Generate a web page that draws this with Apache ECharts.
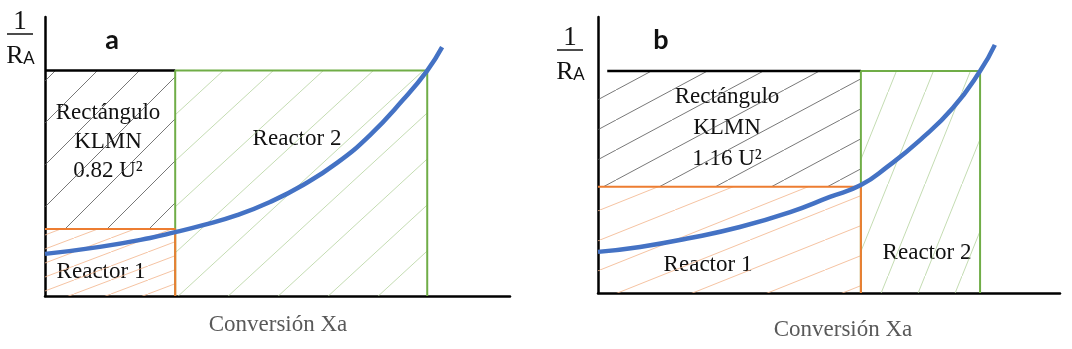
<!DOCTYPE html>
<html>
<head>
<meta charset="utf-8">
<script src="https://cdn.jsdelivr.net/npm/echarts@6/dist/echarts.min.js"></script>
<style>
  html, body { margin: 0; padding: 0; background: #fff; }
  #main { width: 1072px; height: 349px; }
</style>
</head>
<body>
<div id="main"></div>
<script>
// curva 1/RA vs conversion, panel a
var curveXA = [0, 0.118, 0.226, 0.280, 0.340, 0.413, 0.484, 0.555, 0.628, 0.699, 0.770, 0.822, 0.854];
var curveYA = [1.51, 1.76, 2.08, 2.29, 2.54, 2.90, 3.37, 3.98, 4.77, 5.77, 7.03, 8.08, 8.92];
// panel b
var curveXB = [0, 0.091, 0.199, 0.307, 0.416, 0.502, 0.569, 0.626, 0.697, 0.768, 0.827, 0.859];
var curveYB = [1.49, 1.67, 1.99, 2.39, 2.93, 3.48, 3.91, 4.57, 5.54, 6.70, 8.04, 8.99];

// conversion de salida de cada reactor [inicio, reactor 1, reactor 2]
var convA = [0, 0.28, 0.822];
var convB = [0, 0.569, 0.827];
// niveles 1/RA [reactor 1, reactor 2]
var levelA = [2.40, 8.08];
var levelB = [3.85, 8.04];

var labelsA = ['Rectángulo', 'KLMN', '0.82 U²'];
var labelsB = ['Rectángulo', 'KLMN', '1.16 U²'];

// rayado
function hatch(w, h, color, lw) {
  var c = document.createElement('canvas');
  c.width = w; c.height = h;
  var ctx = c.getContext('2d');
  ctx.strokeStyle = color;
  ctx.lineWidth = lw;
  ctx.beginPath();
  ctx.moveTo(-w, 2 * h);
  ctx.lineTo(2 * w, -h);
  ctx.stroke();
  return { image: c, repeat: 'repeat' };
}
var pats = [
  hatch(42, 42, '#555', 0.8),     // a negro
  hatch(37, 14, '#f3b48a', 0.8),  // a naranja
  hatch(50, 46, '#b5d39e', 0.8),  // a verde
  hatch(56, 30, '#555', 0.8),     // b negro
  hatch(75, 30, '#f3b48a', 0.8),  // b naranja
  hatch(37, 92, '#b5d39e', 0.8)   // b verde
];

function zip(xs, ys) {
  return xs.map(function (x, i) { return [x, ys[i]]; });
}

function renderHatch(params, api) {
  var p0 = api.coord([api.value(0), api.value(3)]);
  var p1 = api.coord([api.value(2), api.value(1)]);
  return {
    type: 'rect',
    shape: { x: p0[0], y: p0[1], width: p1[0] - p0[0], height: p1[1] - p0[1] },
    style: { fill: pats[api.value(4)], stroke: null }
  };
}

function panelSeries(idx, conv, level, xs, ys, blackStart, p) {
  var line = function (data, color, w, z) {
    return {
      type: 'line', xAxisIndex: idx, yAxisIndex: idx, data: data,
      symbol: 'none', lineStyle: { color: color, width: w }, z: z, silent: true
    };
  };
  var curve = line(zip(xs, ys), '#4472c4', 4.5, 5);
  curve.smooth = true;
  return [
    {
      type: 'custom', xAxisIndex: idx, yAxisIndex: idx, renderItem: renderHatch, z: 1, silent: true,
      data: [
        [conv[0], level[0], conv[1], level[1], p],
        [conv[0], 0, conv[1], level[0], p + 1],
        [conv[1], 0, conv[2], level[1], p + 2]
      ]
    },
    line([[blackStart, level[1]], [conv[1], level[1]]], '#000', 2.5, 3),
    line([[conv[1], 0], [conv[1], level[1]], [conv[2], level[1]], [conv[2], 0]], '#70ad47', 2, 3),
    line([[conv[0], level[0]], [conv[1], level[0]], [conv[1], 0]], '#ed7d31', 2, 4),
    curve
  ];
}

function axisX(idx) {
  return {
    type: 'value', gridIndex: idx, min: 0, max: 1,
    axisLine: { show: true, lineStyle: { color: '#000', width: 2.5 } },
    axisTick: { show: false }, axisLabel: { show: false }, splitLine: { show: false }
  };
}
function axisY(idx) {
  return {
    type: 'value', gridIndex: idx, min: 0, max: 10,
    axisLine: { show: true, lineStyle: { color: '#000', width: 2.5 } },
    axisTick: { show: false }, axisLabel: { show: false }, splitLine: { show: false }
  };
}

function txt(s, x, y, font, color) {
  return {
    type: 'text', x: x, y: y, silent: true,
    style: {
      text: s, font: font, fill: color || '#111',
      align: 'center', verticalAlign: 'middle',
      textAlign: 'center', textVerticalAlign: 'middle'
    }
  };
}

var serif = '"Liberation Serif", "DejaVu Serif", serif';
var graphics = [
  txt('a', 112, 40, 'bold 27px Lato, "Open Sans", sans-serif'),
  txt('b', 661, 40, 'bold 27px Lato, "Open Sans", sans-serif'),
  txt('1', 20, 22, '27px ' + serif),
  { type: 'line', shape: { x1: 7, y1: 34, x2: 33, y2: 34 }, style: { stroke: '#111', lineWidth: 1.5 } },
  txt('R', 15, 56, '26px ' + serif),
  txt('A', 29, 59, '18px "Open Sans", sans-serif'),
  txt('1', 570, 38, '27px ' + serif),
  { type: 'line', shape: { x1: 557, y1: 50, x2: 583, y2: 50 }, style: { stroke: '#111', lineWidth: 1.5 } },
  txt('R', 565, 72, '26px ' + serif),
  txt('A', 579, 75, '18px "Open Sans", sans-serif'),
  txt(labelsA[0], 108, 113, '23px ' + serif),
  txt(labelsA[1], 108, 142, '23px ' + serif),
  txt(labelsA[2], 108, 171, '23px ' + serif),
  txt(labelsB[0], 727, 97, '23px ' + serif),
  txt(labelsB[1], 727, 128, '23px ' + serif),
  txt(labelsB[2], 727, 159, '23px ' + serif),
  txt('Reactor 2', 297, 139, '23px ' + serif),
  txt('Reactor 1', 101, 272, '23px ' + serif),
  txt('Reactor 1', 708, 265, '23px ' + serif),
  txt('Reactor 2', 927, 253, '23px ' + serif),
  txt('Conversión Xa', 278, 325, '23px ' + serif, '#595959'),
  txt('Conversión Xa', 843, 330, '23px ' + serif, '#595959')
];

var chart = echarts.init(document.getElementById('main'));
chart.setOption({
  animation: false,
  backgroundColor: '#fff',
  grid: [
    { left: 45, top: 17, width: 465, height: 279 },
    { left: 598, top: 17, width: 462, height: 276 }
  ],
  xAxis: [axisX(0), axisX(1)],
  yAxis: [axisY(0), axisY(1)],
  series: panelSeries(0, convA, levelA, curveXA, curveYA, 0, 0)
    .concat(panelSeries(1, convB, levelB, curveXB, curveYB, 0.02, 3)),
  graphic: graphics
});
</script>
</body>
</html>
